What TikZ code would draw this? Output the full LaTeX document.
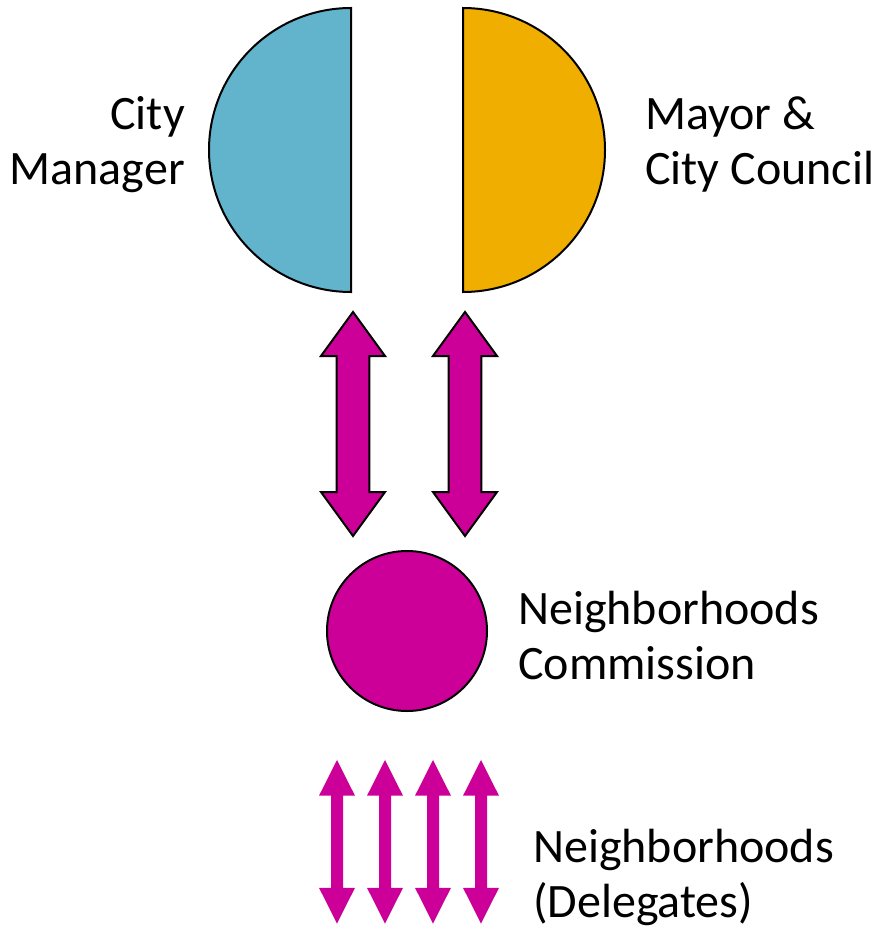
\documentclass[tikz,border=0pt]{standalone}
\usepackage{fontspec}
\setmainfont{Carlito}
\definecolor{cmblue}{HTML}{62B4CD}
\definecolor{cmorange}{HTML}{F0AE00}
\definecolor{cmmag}{HTML}{CC0099}
\tikzset{
  outl/.style={draw=black, line width=2pt, line join=miter},
  lbl/.style={inner sep=0pt, font=\fontsize{48}{55}\selectfont},
  pics/dblarr/.style args={#1/#2/#3/#4}{code={
    % #1 total length, #2 head length, #3 head half width, #4 shaft half width
    \path[pic actions] (0,0) -- (#3,#2) -- (#4,#2) -- (#4,#1-#2) -- (#3,#1-#2)
      -- (0,#1) -- (-#3,#1-#2) -- (-#4,#1-#2) -- (-#4,#2) -- (-#3,#2) -- cycle;
  }}
}
\begin{document}
\begin{tikzpicture}[x=1pt,y=-1pt]
\useasboundingbox (0,0) rectangle (877,929);
% half disks
\coordinate (cmtop) at (351,8);
\coordinate (mctop) at (463,8);
\draw[outl, fill=cmblue] (cmtop) arc[start angle=-90, end angle=-270, radius=142] -- cycle;
\draw[outl, fill=cmorange] (mctop) arc[start angle=-90, end angle=90, radius=142] -- cycle;
% upper arrows
\pic[outl, fill=cmmag] (ua1) at (353,312) {dblarr={224/44/32/16.3}};
\pic[outl, fill=cmmag] (ua2) at (465,312) {dblarr={224/44/32/16.3}};
% commission circle
\node[circle, outl, fill=cmmag, minimum size=160pt, inner sep=0pt] (nc) at (407,631) {};
% lower arrows
\foreach \i/\xx in {1/337,2/385,3/433,4/481}{
  \pic[fill=cmmag] (la\i) at (\xx,760) {dblarr={163.5/35.7/18/6}};
}
% labels (base anchor = baseline of last line)
\node[lbl, anchor=base east, align=right] (tcm) at (185,184) {City\\Manager};
\node[lbl, anchor=base west, align=left] (tmc) at (645,184) {Mayor \&\\City Council};
\node[lbl, anchor=base west, align=left] (tnc) at (518,679) {Neighborhoods\\Commission};
\node[lbl, anchor=base west, align=left] (tnd) at (533,917) {Neighborhoods\\(Delegates)};
\end{tikzpicture}
\end{document}
